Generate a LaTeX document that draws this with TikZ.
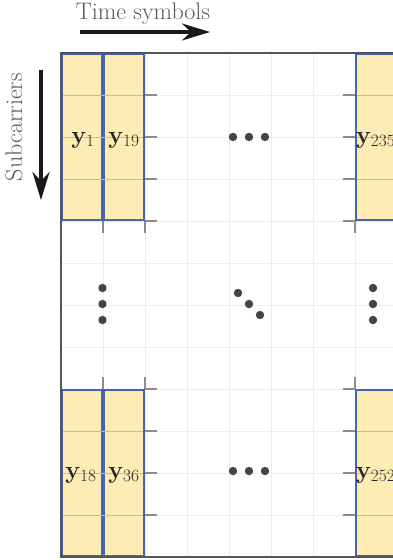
\documentclass[tikz,border=0pt]{standalone}
\usetikzlibrary{arrows.meta}
\definecolor{gridl}{RGB}{236,236,236}
\definecolor{tickc}{RGB}{150,135,135}
\definecolor{innerc}{RGB}{205,188,145}
\definecolor{yfill}{RGB}{253,236,180}
\definecolor{bblue}{RGB}{72,100,180}
\definecolor{frame}{RGB}{85,85,85}
\definecolor{dotc}{RGB}{68,68,68}
\definecolor{txtg}{RGB}{90,90,90}
\begin{document}
\begin{tikzpicture}[x=1pt,y=-1pt,
  gridline/.style={draw=gridl,line width=1pt},
  tickline/.style={draw=tickc,line width=1.3pt},
  innerline/.style={draw=innerc,line width=1pt},
  block/.style={fill=yfill,draw=bblue,line width=1.7pt},
  framel/.style={draw=frame,line width=2.2pt},
  lbl/.style={inner sep=0pt,text=black!85,font=\fontsize{25}{28}\selectfont},
  bigdot/.style={fill=dotc},
  axarrow/.style={draw=black!90,line width=3.5pt,-{Stealth[length=28pt,width=17pt,inset=9pt]}},
  axtext/.style={text=txtg,font=\fontsize{24}{28}\selectfont,inner sep=0pt}]
\useasboundingbox (0,0) rectangle (393,560);
\clip (0,0) rectangle (393,560);
% light grid
\foreach \i in {1,...,8} \draw[gridline] ({61+42*\i},53) -- ({61+42*\i},557);
\foreach \j in {1,...,11} \draw[gridline] (61,{53+42*\j}) -- (400,{53+42*\j});
% blocks
\foreach \yt/\yb in {54/220,390/556}{
  \draw[block] (62,\yt) rectangle (102,\yb);
  \draw[block] (104,\yt) rectangle (144,\yb);
  \draw[block] (356,\yt) rectangle (400,\yb);
}
% inner lines of blocks
\foreach \yy in {95,137,179,431,473,515}{
  \draw[innerline] (63,\yy) -- (143,\yy);
  \draw[innerline] (357,\yy) -- (400,\yy);
}
% ticks
\foreach \yy in {95,137,179,221,389,431,473,515}{
  \draw[tickline] (145,\yy) -- (157,\yy);
  \draw[tickline] (343,\yy) -- (355,\yy);
}
\foreach \xx in {103,145,355}{
  \draw[tickline] (\xx,221) -- (\xx,233);
  \draw[tickline] (\xx,377) -- (\xx,389);
}
% frame
\draw[framel] (400,53) -- (61,53) -- (61,557) -- (400,557);
% labels
\node[lbl,anchor=base] (y1) at (83,143) {$\mathbf{y}_{1}$};
\node[lbl,anchor=base] (y19) at (124,143) {$\mathbf{y}_{19}$};
\node[lbl,anchor=base west] (y235) at (356,143) {$\mathbf{y}_{235}$};
\node[lbl,anchor=base] (y18) at (81,478) {$\mathbf{y}_{18}$};
\node[lbl,anchor=base] (y36) at (124,478) {$\mathbf{y}_{36}$};
\node[lbl,anchor=base west] (y252) at (356,478) {$\mathbf{y}_{252}$};
% dots
\foreach \p in {(233,137),(249,137),(265,137),(233,471),(249,471),(265,471),
  (102.5,288),(102.5,304),(102.5,320),(373,288),(373,304),(373,320),
  (238,293),(249,304),(260,315)}
  \fill[bigdot] \p circle (4.2);
% axes
\node[axtext,anchor=base] (ts) at (143,19) {Time symbols};
\coordinate (ta) at (80,32);
\coordinate (tb) at (210,32);
\draw[axarrow] (ta) -- (tb);
\node[axtext,rotate=90,anchor=base] (sc) at (22,127) {Subcarriers};
\coordinate (sa) at (41,70);
\coordinate (sb) at (41,200);
\draw[axarrow] (sa) -- (sb);
\end{tikzpicture}
\end{document}
